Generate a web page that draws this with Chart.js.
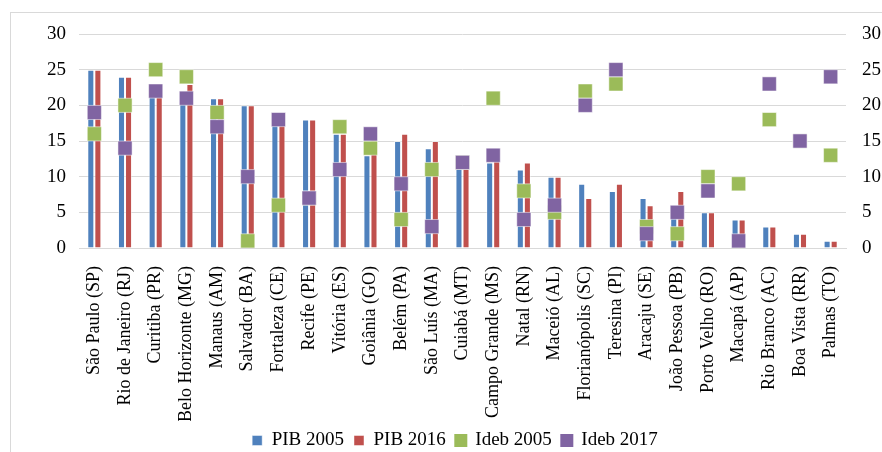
<!DOCTYPE html>
<html>
<head>
<meta charset="utf-8">
<script src="https://cdn.jsdelivr.net/npm/chart.js@4/dist/chart.umd.min.js"></script>
<style>
    html, body { margin: 0; padding: 0; background: #fff; }
    #wrap { position: relative; width: 882px; height: 452px; }
    #frame {
        position: absolute; left: 10px; top: 12px; right: 0; bottom: 0;
        border-top: 1px solid #d9d9d9; border-left: 1px solid #d9d9d9;
    }
    canvas { position: absolute; left: 0; top: 0; }
</style>
</head>
<body>
<div id="wrap">
    <div id="frame"></div>
    <canvas id="chart" width="882" height="452"></canvas>
</div>
<script>
"use strict";

const cities = [
    "São Paulo (SP)", "Rio de Janeiro (RJ)", "Curitiba (PR)",
    "Belo Horizonte (MG)", "Manaus (AM)", "Salvador (BA)",
    "Fortaleza (CE)", "Recife (PE)", "Vitória (ES)", "Goiânia (GO)",
    "Belém (PA)", "São Luís (MA)", "Cuiabá (MT)", "Campo Grande (MS)",
    "Natal (RN)", "Maceió (AL)", "Florianópolis (SC)", "Teresina (PI)",
    "Aracaju (SE)", "João Pessoa (PB)", "Porto Velho (RO)",
    "Macapá (AP)", "Rio Branco (AC)", "Boa Vista (RR)", "Palmas (TO)"
];

const pib2005 = [25, 24, 23, 22, 21, 20, 19, 18, 16, 13, 15, 14, 13, 12, 11, 10, 9, 8, 7, 6, 5, 4, 3, 2, 1];
const pib2016 = [25, 24, 23, 23, 21, 20, 19, 18, 16, 17, 16, 15, 13, 13, 12, 10, 7, 9, 6, 8, 5, 4, 3, 2, 1];
const ideb2005 = [16, 20, 25, 24, 19, 1, 6, 7, 17, 14, 4, 11, 12, 21, 8, 5, 22, 23, 3, 2, 10, 9, 18, 15, 13];
const ideb2017 = [19, 14, 22, 21, 17, 10, 18, 7, 11, 16, 9, 3, 12, 13, 4, 6, 20, 25, 2, 5, 8, 1, 23, 15, 24];

const axisTicks = [0, 5, 10, 15, 20, 25, 30];

const serif = "Liberation Serif";

Chart.defaults.font.family = serif;
Chart.defaults.font.size = 19;
Chart.defaults.color = "#000";

function pointSet(label, data, color, order) {

    return {
        type: "line",
        label,
        data,
        yAxisID: "y2",
        showLine: false,
        pointStyle: "rect",
        pointRadius: 10,
        pointHoverRadius: 10,
        backgroundColor: color,
        borderColor: color,
        pointBorderColor: "rgba(255,255,255,0.5)",
        pointBorderWidth: 1,
        order
    };
}

function barSet(label, data, color) {

    return {
        type: "bar",
        label,
        data,
        yAxisID: "y",
        backgroundColor: color,
        borderColor: "rgba(255,255,255,0.45)",
        borderWidth: 1,
        barPercentage: 1,
        categoryPercentage: 0.46,
        order: 2
    };
}

// keep the legend strip short so it sits low like the original
const legendHeight = {
    id: "legendHeight",
    afterInit(chart) {
        const legend = chart.legend;
        const fit = legend.fit;
        legend.fit = function () {
            fit.call(this);
            this.height = 31;
        };
    }
};

new Chart(
    document.getElementById("chart"),
    {
        plugins: [legendHeight],
        data: {
            labels: cities,
            datasets: [
                barSet("PIB 2005", pib2005, "#4f81bd"),
                barSet("PIB 2016", pib2016, "#c0504d"),
                pointSet("Ideb 2005", ideb2005, "#9bbb59", 1),
                pointSet("Ideb 2017", ideb2017, "#8064a2", 0)
            ]
        },
        options: {
            responsive: false,
            animation: false,
            layout: {
                padding: { top: 34, left: 28, right: 0, bottom: 0 }
            },
            plugins: {
                tooltip: { enabled: false },
                legend: {
                    position: "bottom",
                    labels: {
                        boxWidth: 10,
                        boxHeight: 10,
                        padding: 10,
                        font: { family: serif, size: 19 },
                        sort: (a, b) => a.datasetIndex - b.datasetIndex
                    }
                }
            },
            scales: {
                x: {
                    offset: true,
                    afterFit: scale => { scale.height = 173; },
                    grid: { display: false },
                    border: { color: "#d9d9d9" },
                    ticks: {
                        minRotation: 90,
                        maxRotation: 90,
                        autoSkip: false,
                        padding: 10,
                        font: { family: serif, size: 18 }
                    }
                },
                y: {
                    position: "left",
                    min: 0,
                    max: 30,
                    afterFit: scale => { scale.width = 51; },
                    afterBuildTicks: scale => {
                        scale.ticks = axisTicks.map(v => ({ value: v }));
                    },
                    grid: { color: "#d9d9d9", drawTicks: false },
                    border: { display: false },
                    ticks: {
                        padding: 13,
                        font: { family: serif, size: 19 }
                    }
                },
                y2: {
                    position: "right",
                    min: 0,
                    max: 30,
                    afterFit: scale => { scale.width = 36; },
                    afterBuildTicks: scale => {
                        scale.ticks = axisTicks.map(v => ({ value: v }));
                    },
                    grid: { display: false, drawTicks: false },
                    border: { display: false },
                    ticks: {
                        padding: 16,
                        font: { family: serif, size: 19 }
                    }
                }
            }
        }
    }
);
</script>
</body>
</html>
